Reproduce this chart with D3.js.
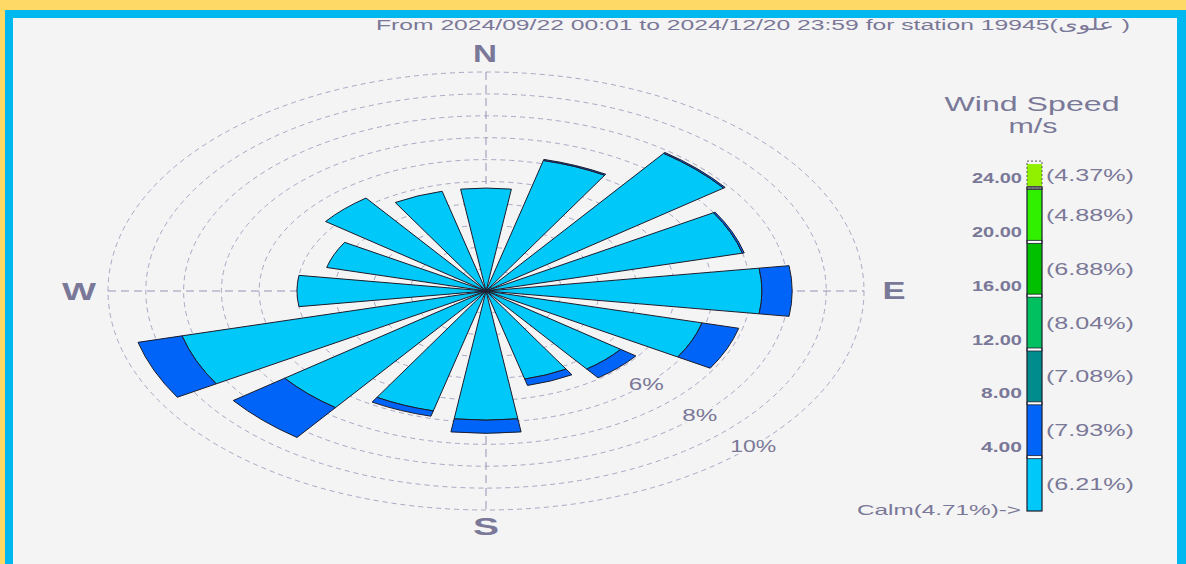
<!DOCTYPE html>
<html>
<head>
    <meta charset="UTF-8">
    <title>Wind Rose</title>
    <script src="https://d3js.org/d3.v7.min.js"></script>
    <style>
        body { margin: 0; background: #f4f4f4; }
        text { font-family: "Liberation Sans", Arial, sans-serif; fill: #7a7898; }
    </style>
</head>
<body>
    <div class="canvas"></div>

    <script>
        // data
        const directions = ["N", "NNE", "NE", "ENE", "E", "ESE", "SE", "SSE",
                            "S", "SSW", "SW", "WSW", "W", "WNW", "NW", "NNW"];
        // percent of time per direction, 0-4 m/s and 4-8 m/s
        const speed0to4 = [4.7, 6.15, 7.85, 7.0, 7.3, 5.9, 4.45, 4.15, 5.9, 5.65, 6.65, 8.3, 5.0, 4.35, 5.3, 4.7];
        const speed4to8 = [0, 0.05, 0.05, 0.05, 0.8, 1.0, 0.5, 0.3, 0.6, 0.25, 1.7, 1.2, 0, 0, 0, 0];

        const ringValues = [1, 2, 3, 4, 5, 6, 7, 8, 9, 10];
        const ringLabels = [6, 8, 10];

        const legendTicks = [4, 8, 12, 16, 20, 24];
        const legendPercents = ["6.21", "7.93", "7.08", "8.04", "6.88", "4.88", "4.37"];
        const legendColors = ["#00c8f8", "#0064f8", "#008c8c", "#00c060", "#00c000", "#30f000", "#90f000"];
        const calmPercent = "4.71";

        const titleText = "From 2024/09/22 00:01 to 2024/12/20 23:59 for station 19945(علوی )";

        const width = 1186;
        const height = 564;
        const cx = 486, cy = 291;
        const ry = 219;
        const sx = 378 / 219;   // the rose is drawn stretched sideways

        const svg = d3.select(".canvas")
            .append("svg")
            .attr("width", width)
            .attr("height", height)
            .style("display", "block");

        // frame
        svg.append("rect").attr("width", width).attr("height", height).attr("fill", "#ffd966");
        svg.append("rect").attr("x", 5).attr("y", 10).attr("width", width - 5).attr("height", height - 10).attr("fill", "#00b8f0");
        svg.append("rect").attr("x", 13).attr("y", 18).attr("width", width - 13 - 9).attr("height", height - 18).attr("fill", "#f4f4f4");

        // scales
        const rScale = d3.scaleLinear().domain([0, 10]).range([0, ry]);
        const step = 2 * Math.PI / directions.length;
        const angle = d3.scaleBand()
            .domain(directions)
            .range([-step / 2, 2 * Math.PI - step / 2])
            .paddingInner(0.27)
            .paddingOuter(0.135);

        const rose = svg.append("g")
            .attr("transform", `translate(${cx}, ${cy})`);

        // rings
        rose.selectAll(".ring")
            .data(ringValues)
            .enter()
            .append("ellipse")
            .attr("rx", d => rScale(d) * sx)
            .attr("ry", d => rScale(d))
            .attr("fill", "none")
            .attr("stroke", "#a8a8c4")
            .attr("stroke-width", 1)
            .attr("stroke-dasharray", "5,4");

        // axes
        const R = rScale(10);
        rose.append("line")
            .attr("x1", -R * sx).attr("x2", R * sx).attr("y1", 0).attr("y2", 0)
            .attr("stroke", "#9494b4").attr("stroke-dasharray", "8,5");
        rose.append("line")
            .attr("x1", 0).attr("x2", 0).attr("y1", -R).attr("y2", R)
            .attr("stroke", "#9494b4").attr("stroke-dasharray", "8,5");

        // bars
        const segments = [];
        directions.forEach((d, i) => {
            segments.push({ dir: d, r0: 0, r1: speed0to4[i], color: legendColors[0] });
            if (speed4to8[i] > 0) {
                segments.push({ dir: d, r0: speed0to4[i], r1: speed0to4[i] + speed4to8[i], color: legendColors[1] });
            }
        });

        const arc = d3.arc()
            .innerRadius(d => rScale(d.r0))
            .outerRadius(d => rScale(d.r1))
            .startAngle(d => angle(d.dir))
            .endAngle(d => angle(d.dir) + angle.bandwidth());

        rose.append("g")
            .attr("transform", `scale(${sx}, 1)`)
            .selectAll("path")
            .data(segments)
            .enter()
            .append("path")
            .attr("d", arc)
            .attr("fill", d => d.color)
            .attr("stroke", "#1c1c2c")
            .attr("stroke-width", 1)
            .attr("stroke-linejoin", "round")
            .attr("vector-effect", "non-scaling-stroke");

        // ring labels along the SE direction
        const labA = Math.PI * 3 / 4;
        rose.selectAll(".ringlabel")
            .data(ringLabels)
            .enter()
            .append("text")
            .attr("x", d => Math.sin(labA) * rScale(d) * sx)
            .attr("y", d => -Math.cos(labA) * rScale(d) + 6)
            .attr("text-anchor", "middle")
            .attr("font-size", "16px")
            .attr("textLength", d => d >= 10 ? 46 : 35)
            .attr("lengthAdjust", "spacingAndGlyphs")
            .attr("stroke", "#f4f4f4")
            .attr("stroke-width", 4)
            .attr("paint-order", "stroke")
            .text(d => d + "%");

        // compass letters
        const compass = [
            { t: "N", x: 485, y: 62, w: 24 },
            { t: "E", x: 894, y: 299, w: 23 },
            { t: "S", x: 486, y: 535, w: 26 },
            { t: "W", x: 79, y: 300, w: 34 }
        ];
        svg.selectAll(".compass")
            .data(compass)
            .enter()
            .append("text")
            .attr("x", d => d.x)
            .attr("y", d => d.y)
            .attr("text-anchor", "middle")
            .attr("font-size", "24px")
            .attr("font-weight", "bold")
            .attr("textLength", d => d.w)
            .attr("lengthAdjust", "spacingAndGlyphs")
            .text(d => d.t);

        // title
        svg.append("text")
            .attr("x", 376)
            .attr("y", 30)
            .attr("font-size", "15.5px")
            .attr("textLength", 754)
            .attr("lengthAdjust", "spacingAndGlyphs")
            .text(titleText);

        // legend
        const ly = d3.scaleLinear().domain([0, 24]).range([511, 188]);
        const lx = 1027, lw = 15;

        svg.append("text").attr("x", 1032).attr("y", 111)
            .attr("text-anchor", "middle").attr("font-size", "21px")
            .attr("textLength", 175).attr("lengthAdjust", "spacingAndGlyphs")
            .text("Wind Speed");
        svg.append("text").attr("x", 1033).attr("y", 133)
            .attr("text-anchor", "middle").attr("font-size", "21px")
            .attr("textLength", 49).attr("lengthAdjust", "spacingAndGlyphs")
            .text("m/s");

        const bounds = [0].concat(legendTicks).concat([26]);
        const legendSeg = legendColors.map((c, i) => ({ lo: bounds[i], hi: bounds[i + 1], color: c, pct: legendPercents[i], top: i === legendColors.length - 1 }));

        const lg = svg.append("g");
        // filled classes
        lg.selectAll(".seg")
            .data(legendSeg)
            .enter()
            .append("rect")
            .attr("x", lx)
            .attr("width", lw)
            .attr("y", d => d.top ? ly(d.hi) + 3 : ly(d.hi))
            .attr("height", d => d.top ? ly(d.lo) - ly(d.hi) - 5 : ly(d.lo) - ly(d.hi))
            .attr("fill", d => d.color);

        // white separators with dark edges
        lg.selectAll(".sep")
            .data(legendTicks)
            .enter()
            .append("rect")
            .attr("x", lx)
            .attr("width", lw)
            .attr("y", d => ly(d) - 1.5)
            .attr("height", 3)
            .attr("fill", "#ffffff")
            .attr("stroke", "#1c1c2c")
            .attr("stroke-width", 0.8);

        // outline of the closed part of the bar
        lg.append("rect")
            .attr("x", lx).attr("width", lw)
            .attr("y", ly(24)).attr("height", ly(0) - ly(24))
            .attr("fill", "none")
            .attr("stroke", "#1c1c2c")
            .attr("stroke-width", 1.2);

        // dotted top of open-ended class
        lg.append("rect")
            .attr("x", lx).attr("width", lw)
            .attr("y", ly(26)).attr("height", ly(24) - ly(26))
            .attr("fill", "none")
            .attr("stroke", "#555")
            .attr("stroke-dasharray", "2,2");

        lg.selectAll(".pct")
            .data(legendSeg)
            .enter()
            .append("text")
            .attr("x", 1046)
            .attr("y", d => (ly(d.lo) + ly(d.hi)) / 2 + 6)
            .attr("font-size", "16px")
            .attr("textLength", 88)
            .attr("lengthAdjust", "spacingAndGlyphs")
            .text(d => "(" + d.pct + "%)");

        lg.selectAll(".tick")
            .data(legendTicks)
            .enter()
            .append("text")
            .attr("x", 1022)
            .attr("y", d => ly(d) - 5)
            .attr("text-anchor", "end")
            .attr("font-family", "'DejaVu Serif', serif")
            .attr("font-weight", "bold")
            .attr("font-size", "14px")
            .attr("textLength", d => d >= 10 ? 50 : 41)
            .attr("lengthAdjust", "spacingAndGlyphs")
            .text(d => d.toFixed(2));

        lg.append("text")
            .attr("x", 1021)
            .attr("y", 515)
            .attr("text-anchor", "end")
            .attr("font-size", "15px")
            .attr("textLength", 164)
            .attr("lengthAdjust", "spacingAndGlyphs")
            .text("Calm(" + calmPercent + "%)->");
    </script>
</body>
</html>
